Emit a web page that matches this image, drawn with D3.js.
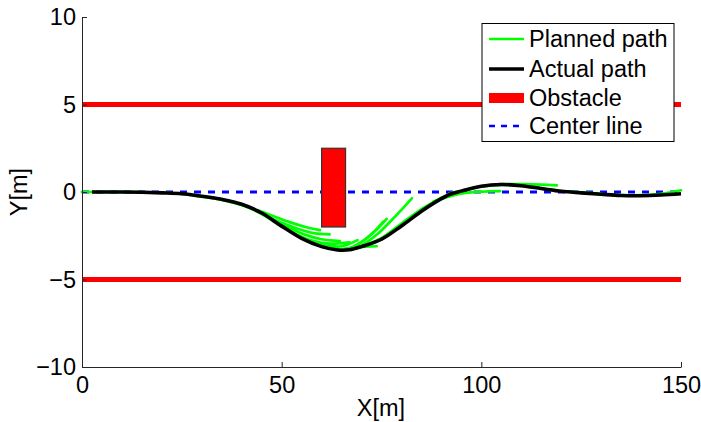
<!DOCTYPE html>
<html><head><meta charset="utf-8">
<script src="https://cdn.jsdelivr.net/npm/d3@7"></script>
<style>
body{margin:0;background:#fff;}
svg text{font-family:"Liberation Sans",Arial,Helvetica,sans-serif;fill:#000;}
</style></head>
<body><svg id="c" width="701" height="422"></svg>
<script>
// ---- data ----
const xDomain = [0, 150];
const yDomain = [-10, 10];
const xTicks = [0, 50, 100, 150];
const yTicks = [-10, -5, 0, 5, 10];
const xLabel = "X[m]";
const yLabel = "Y[m]";
const legendLabels = ["Planned path", "Actual path", "Obstacle", "Center line"];

const actualX = [2.5, 10, 20, 25, 30, 35, 40, 45, 50, 55, 60, 64, 67, 70, 75, 80, 85, 90, 92.5, 95, 100, 105, 110, 115, 120, 125, 130, 135, 140, 145, 150];
const actualY = [0.0, 0.0, -0.05, -0.1, -0.24, -0.42, -0.7, -1.2, -1.95, -2.65, -3.12, -3.31, -3.3, -3.12, -2.7, -1.94, -1.1, -0.38, -0.1, 0.05, 0.33, 0.43, 0.36, 0.2, 0.04, -0.05, -0.13, -0.2, -0.21, -0.17, -0.1];

const plannedPaths = [
  [[0,0.0],[10,0.0],[20,-0.03]],
  [[20,-0.03],[25,-0.11],[30,-0.27],[35,-0.45],[40,-0.74]],
  [[35,-0.44],[40,-0.74],[45,-1.26],[50,-1.98]],
  [[44,-1.05],[48,-1.38],[52,-1.72],[56,-2.0],[59.6,-2.18]],
  [[46,-1.35],[50,-1.75],[54,-2.1],[58,-2.35],[62,-2.42]],
  [[48,-1.6],[52,-2.05],[56,-2.45],[60,-2.7],[64.6,-2.8]],
  [[50,-1.95],[54,-2.45],[58,-2.8],[62,-2.95],[67,-2.88]],
  [[53,-2.35],[57,-2.8],[61,-3.05],[65,-3.1],[69,-2.75]],
  [[60,-3.12],[64,-3.27],[68,-3.2],[71,-3.12],[73.8,-3.1]],
  [[64,-3.3],[67,-3.2],[70,-2.85],[73,-2.3],[75.4,-1.7]],
  [[65,-3.3],[68,-3.15],[71,-2.7],[74,-2.1],[76.3,-1.54]],
  [[67,-3.28],[70,-3.05],[74,-2.4],[78,-1.5],[82.6,-0.36]],
  [[70,-3.12],[75,-2.62],[80,-1.8],[85,-0.98],[90,-0.32]],
  [[75,-2.72],[80,-1.9],[85,-1.05],[90,-0.4],[95,0.0]],
  [[88,-0.55],[92,-0.25],[96,-0.05],[100,0.02],[104.7,0.05]],
  [[92,-0.07],[96,0.12],[100,0.3],[105,0.4],[110,0.35]],
  [[100,0.34],[105,0.45],[110,0.45],[115,0.42],[118.9,0.38]],
  [[110,0.36],[115,0.2],[120,0.05],[125,-0.02],[130,-0.1]],
  [[125,-0.04],[130,-0.12],[135,-0.18],[140,-0.18],[145,-0.1],[150,0.1]]
];

const boundaryY = [5, -5];
const centerY = 0;
const obstacleX = [60, 66];
const obstacleY = [-2, 2.5];

// ---- drawing ----
const svg = d3.select("#c");
const x = d3.scaleLinear().domain(xDomain).range([82, 681]);
const y = d3.scaleLinear().domain(yDomain).range([367, 17]);
const FS = 23.5;

const line = d3.line().x(d => x(d[0])).y(d => y(d[1])).curve(d3.curveCatmullRom.alpha(0.5));

// boundaries
svg.selectAll(".bnd").data(boundaryY).enter().append("line")
  .attr("x1", x(xDomain[0])).attr("x2", x(xDomain[1]))
  .attr("y1", d => y(d)).attr("y2", d => y(d))
  .attr("stroke", "#ff0000").attr("stroke-width", 5);

// center line
svg.append("line")
  .attr("x1", x(xDomain[0])).attr("x2", x(xDomain[1]))
  .attr("y1", y(centerY)).attr("y2", y(centerY))
  .attr("stroke", "#0000ff").attr("stroke-width", 2.8).attr("stroke-dasharray", "7,7");

// planned paths
svg.selectAll(".pp").data(plannedPaths).enter().append("path")
  .attr("d", line).attr("fill", "none").attr("stroke", "#00ff00").attr("stroke-width", 2.7)
  .attr("stroke-linecap", "round");

// actual path
svg.append("path").datum(actualX.map((v, i) => [v, actualY[i]]))
  .attr("d", line).attr("fill", "none").attr("stroke", "#000").attr("stroke-width", 3.6);

// obstacle
svg.append("rect")
  .attr("x", x(obstacleX[0])).attr("y", y(obstacleY[1]))
  .attr("width", x(obstacleX[1]) - x(obstacleX[0]))
  .attr("height", y(obstacleY[0]) - y(obstacleY[1]))
  .attr("fill", "#ff0000").attr("stroke", "#333").attr("stroke-width", 1.2);

// axes
const axisColor = "#262626";
const xAxis = svg.append("g").attr("transform", `translate(0,${y(yDomain[0])})`)
  .call(d3.axisBottom(x).tickValues(xTicks).tickSizeInner(-5).tickSizeOuter(0).tickPadding(9).tickFormat(d3.format("d")));
const yAxis = svg.append("g").attr("transform", `translate(${x(xDomain[0])},0)`)
  .call(d3.axisLeft(y).tickValues(yTicks).tickSizeInner(-5).tickSizeOuter(0).tickPadding(6)
    .tickFormat(d => d < 0 ? "\u2212" + Math.abs(d) : String(d)));
[xAxis, yAxis].forEach(g => {
  g.select(".domain").attr("stroke", axisColor).attr("stroke-width", 1);
  g.selectAll(".tick line").attr("stroke", axisColor);
  g.selectAll(".tick text").attr("font-size", FS).attr("font-family", '"Liberation Sans",Arial,sans-serif').attr("fill", "#000");
});

svg.append("text").attr("x", 381).attr("y", 416).attr("text-anchor", "middle").attr("font-size", FS).text(xLabel);
svg.append("text").attr("transform", "translate(27,192) rotate(-90)").attr("text-anchor", "middle").attr("font-size", FS).text(yLabel);

// legend
const lg = svg.append("g");
lg.append("rect").attr("x", 482).attr("y", 23.5).attr("width", 192).attr("height", 118)
  .attr("fill", "#fff").attr("stroke", "#000").attr("stroke-width", 1);
const rowsY = [39, 69, 98, 126];
const sx0 = 489, sx1 = 524;
lg.append("line").attr("x1", sx0).attr("x2", sx1).attr("y1", rowsY[0]).attr("y2", rowsY[0]).attr("stroke", "#00ff00").attr("stroke-width", 2.5);
lg.append("line").attr("x1", sx0).attr("x2", sx1).attr("y1", rowsY[1]).attr("y2", rowsY[1]).attr("stroke", "#000").attr("stroke-width", 3.5);
lg.append("rect").attr("x", sx0).attr("y", rowsY[2] - 5).attr("width", sx1 - sx0).attr("height", 10).attr("fill", "#ff0000");
lg.append("line").attr("x1", sx0).attr("x2", sx1).attr("y1", rowsY[3]).attr("y2", rowsY[3]).attr("stroke", "#0000ff").attr("stroke-width", 2.4).attr("stroke-dasharray", "6,6");
lg.selectAll(".lt").data(legendLabels).enter().append("text")
  .attr("x", 529).attr("y", (d, i) => rowsY[i]).attr("dy", "0.36em").attr("font-size", FS).text(d => d);
</script></body></html>
